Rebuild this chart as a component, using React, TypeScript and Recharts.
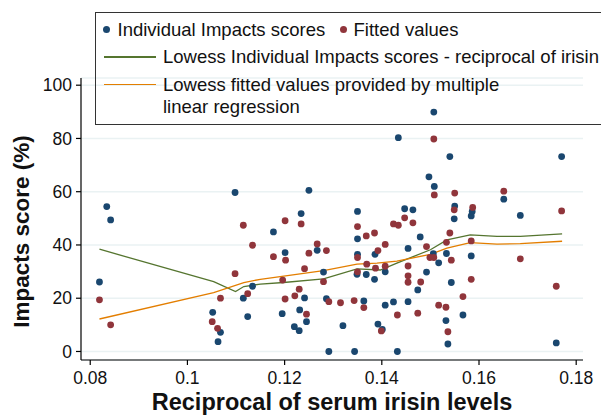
import { ComposedChart, Scatter, Line, XAxis, YAxis, CartesianGrid, Legend } from "recharts";

// [reciprocal of irisin, impacts score]
const individualScores = [
  [0.0819, 26.1], [0.0834, 54.4], [0.0842, 49.4], [0.1052, 14.7], [0.1063, 3.7],
  [0.1068, 7.2], [0.1098, 59.7], [0.1115, 20.0], [0.1124, 13.1], [0.1134, 24.5],
  [0.1177, 44.9], [0.1195, 14.2], [0.1201, 37.1], [0.122, 9.3], [0.123, 7.8],
  [0.1231, 15.6], [0.1234, 51.8], [0.1241, 20.1], [0.1245, 11.2], [0.125, 60.5],
  [0.1267, 38.0], [0.128, 29.8], [0.1286, 19.8], [0.1291, 0], [0.132, 9.7],
  [0.1344, 0], [0.1349, 29.0], [0.135, 52.6], [0.135, 42.3], [0.135, 36.5],
  [0.1363, 19.0], [0.1368, 28.9], [0.1385, 27.1], [0.1386, 36.5], [0.1392, 10.3],
  [0.1401, 8.3], [0.1407, 17.4], [0.1407, 29.9], [0.1424, 18.6], [0.1432, 0],
  [0.1434, 80.3], [0.1447, 53.6], [0.1454, 38.7], [0.1454, 18.7], [0.1464, 53.2],
  [0.1474, 23.1], [0.1479, 43.0], [0.1492, 29.8], [0.1497, 65.6], [0.1506, 36.7],
  [0.1507, 89.9], [0.1508, 62.0], [0.1517, 33.3], [0.1532, 11.6], [0.1533, 36.8],
  [0.1536, 2.8], [0.154, 73.2], [0.1543, 25.9], [0.1549, 49.8], [0.155, 54.6],
  [0.1567, 13.7], [0.1584, 50.9], [0.1584, 35.9], [0.1586, 52.6], [0.1651, 57.2],
  [0.1685, 51.1], [0.1759, 3.2], [0.177, 73.2],
];

const fittedValues = [
  [0.0819, 19.4], [0.0842, 10.0], [0.1051, 11.2], [0.1062, 8.7], [0.1068, 20.0],
  [0.1098, 29.2], [0.1115, 47.4], [0.1124, 21.7], [0.1134, 39.9], [0.1177, 35.6],
  [0.1196, 26.8], [0.1201, 49.1], [0.1201, 19.7], [0.1202, 34.3], [0.1221, 20.9],
  [0.123, 23.4], [0.1234, 47.9], [0.1241, 31.1], [0.1245, 14.0], [0.125, 36.9],
  [0.1267, 40.4], [0.128, 26.2], [0.1286, 37.9], [0.1291, 18.7], [0.1315, 18.3],
  [0.1343, 19.1], [0.135, 46.9], [0.135, 35.3], [0.135, 29.9], [0.1363, 16.5],
  [0.1368, 43.4], [0.1369, 32.8], [0.1385, 44.5], [0.1387, 31.3], [0.1392, 37.9],
  [0.1399, 7.7], [0.1407, 40.2], [0.1407, 32.0], [0.1424, 47.9], [0.1432, 13.7],
  [0.1434, 47.4], [0.1447, 50.2], [0.1454, 32.1], [0.1454, 28.4], [0.1454, 26.0],
  [0.1464, 48.3], [0.1474, 14.4], [0.148, 26.1], [0.1492, 39.4], [0.1499, 35.3],
  [0.1507, 35.3], [0.1507, 79.8], [0.1508, 58.8], [0.1517, 17.4], [0.1532, 16.6],
  [0.1533, 41.0], [0.1536, 7.4], [0.154, 44.5], [0.1543, 34.3], [0.1549, 53.2],
  [0.155, 59.5], [0.1567, 20.6], [0.1584, 41.5], [0.1584, 27.1], [0.1587, 54.1],
  [0.1651, 60.2], [0.1685, 34.8], [0.1759, 24.5], [0.177, 52.8],
];

const lowessIndividual = [
  [0.0819, 38.4], [0.1054, 26.2], [0.1099, 22.5], [0.1116, 24.4], [0.115, 25.3],
  [0.1198, 25.9], [0.128, 27.3], [0.1349, 31.0], [0.1397, 30.6], [0.1431, 33.2],
  [0.15, 38.2], [0.1534, 41.9], [0.1582, 43.8], [0.1637, 43.2], [0.1685, 43.2],
  [0.1771, 44.2],
];

const lowessFitted = [
  [0.0819, 12.2], [0.1054, 22.1], [0.1116, 25.9], [0.115, 27.1], [0.128, 30.4],
  [0.1349, 32.8], [0.139, 33.2], [0.1431, 33.9], [0.15, 36.5], [0.1534, 38.8],
  [0.1582, 40.9], [0.1637, 40.3], [0.1685, 40.5], [0.1771, 41.4],
];

const xTicks = [0.08, 0.1, 0.12, 0.14, 0.16, 0.18];
const yTicks = [0, 20, 40, 60, 80, 100];

const toPoints = (rows: number[][]) => rows.map(([x, y]) => ({ x, y }));

const BLUE = "#1a476f";
const RED = "#90353b";
const GREEN = "#55752f";
const ORANGE = "#e37e00";
const FONT = "'Liberation Sans', Arial, sans-serif";

const dot = (color: string) => (props: any) =>
  <circle cx={props.cx} cy={props.cy} r={3.4} fill={color} />;

const textStyle: React.CSSProperties = {
  position: "absolute",
  fontSize: 18.5,
  lineHeight: "18px",
  whiteSpace: "nowrap",
  color: "#111",
};

function LegendBox() {
  return (
    <div
      style={{
        position: "relative",
        width: 530,
        height: 113,
        border: "1.5px solid #333",
        boxSizing: "border-box",
        fontFamily: FONT,
      }}
    >
      <span style={{ position: "absolute", left: 7, top: 13, width: 7, height: 7, borderRadius: "50%", background: BLUE }} />
      <span style={{ ...textStyle, left: 21.5, top: 7.5 }}>Individual Impacts scores</span>
      <span style={{ position: "absolute", left: 244, top: 13, width: 7, height: 7, borderRadius: "50%", background: RED }} />
      <span style={{ ...textStyle, left: 257.5, top: 7.5 }}>Fitted values</span>
      <span style={{ position: "absolute", left: 8, top: 43, width: 52, height: 1.5, background: GREEN }} />
      <span style={{ ...textStyle, left: 67, top: 35 }}>Lowess Individual Impacts scores - reciprocal of irisin</span>
      <span style={{ position: "absolute", left: 8, top: 70.5, width: 52, height: 1.5, background: ORANGE }} />
      <span style={{ ...textStyle, left: 67, top: 62.5 }}>Lowess fitted values provided by multiple</span>
      <span style={{ ...textStyle, left: 67, top: 85 }}>linear regression</span>
    </div>
  );
}

const YTitle = () => (
  <text
    x={28.5}
    y={231.5}
    transform="rotate(-90, 28.5, 231.5)"
    textAnchor="middle"
    fontSize={22.5}
    fontWeight={700}
    fill="#111"
    fontFamily={FONT}
  >
    Impacts score (%)
  </text>
);

export default function App() {
  return (
    <div style={{ position: "absolute", left: 0, top: 0, width: 601, height: 415, overflow: "hidden", background: "#fff" }}>
      <ComposedChart width={601} height={415} margin={{ top: 78, right: 18, bottom: 0, left: 11 }}>
        <CartesianGrid vertical={false} stroke="#eaf2f3" strokeWidth={1.5} />
        <XAxis
          type="number"
          dataKey="x"
          domain={[0.0781, 0.1814]}
          ticks={xTicks}
          allowDataOverflow
          height={55}
          tickSize={5}
          tickMargin={7}
          stroke="#000"
          strokeWidth={1.2}
          tick={{ fill: "#111", fontSize: 17.5, fontFamily: FONT }}
          tickFormatter={(v) => String(v)}
          label={{ value: "Reciprocal of serum irisin levels", position: "insideBottom", offset: 5, style: { fontSize: 23.5, fontWeight: 700, fill: "#111", fontFamily: FONT } }}
        />
        <YAxis
          type="number"
          dataKey="y"
          domain={[-3.2, 102.7]}
          ticks={yTicks}
          allowDataOverflow
          width={70}
          tickSize={5}
          tickMargin={4}
          stroke="#000"
          strokeWidth={1.2}
          tick={{ fill: "#111", fontSize: 17.5, fontFamily: FONT }}
          label={{ value: "Impacts score (%)", content: () => <YTitle /> }}
        />
        <Legend verticalAlign="middle" layout="horizontal" wrapperStyle={{ top: 12, left: 95, width: 530 }} content={() => <LegendBox />} />
        <Scatter name="Individual Impacts scores" data={toPoints(individualScores)} dataKey="y" fill={BLUE} shape={dot(BLUE)} isAnimationActive={false} />
        <Scatter name="Fitted values" data={toPoints(fittedValues)} dataKey="y" fill={RED} shape={dot(RED)} isAnimationActive={false} />
        <Line data={toPoints(lowessIndividual)} dataKey="y" type="linear" stroke={GREEN} strokeWidth={1.3} dot={false} activeDot={false} isAnimationActive={false} />
        <Line data={toPoints(lowessFitted)} dataKey="y" type="linear" stroke={ORANGE} strokeWidth={1.3} dot={false} activeDot={false} isAnimationActive={false} />
      </ComposedChart>
    </div>
  );
}
